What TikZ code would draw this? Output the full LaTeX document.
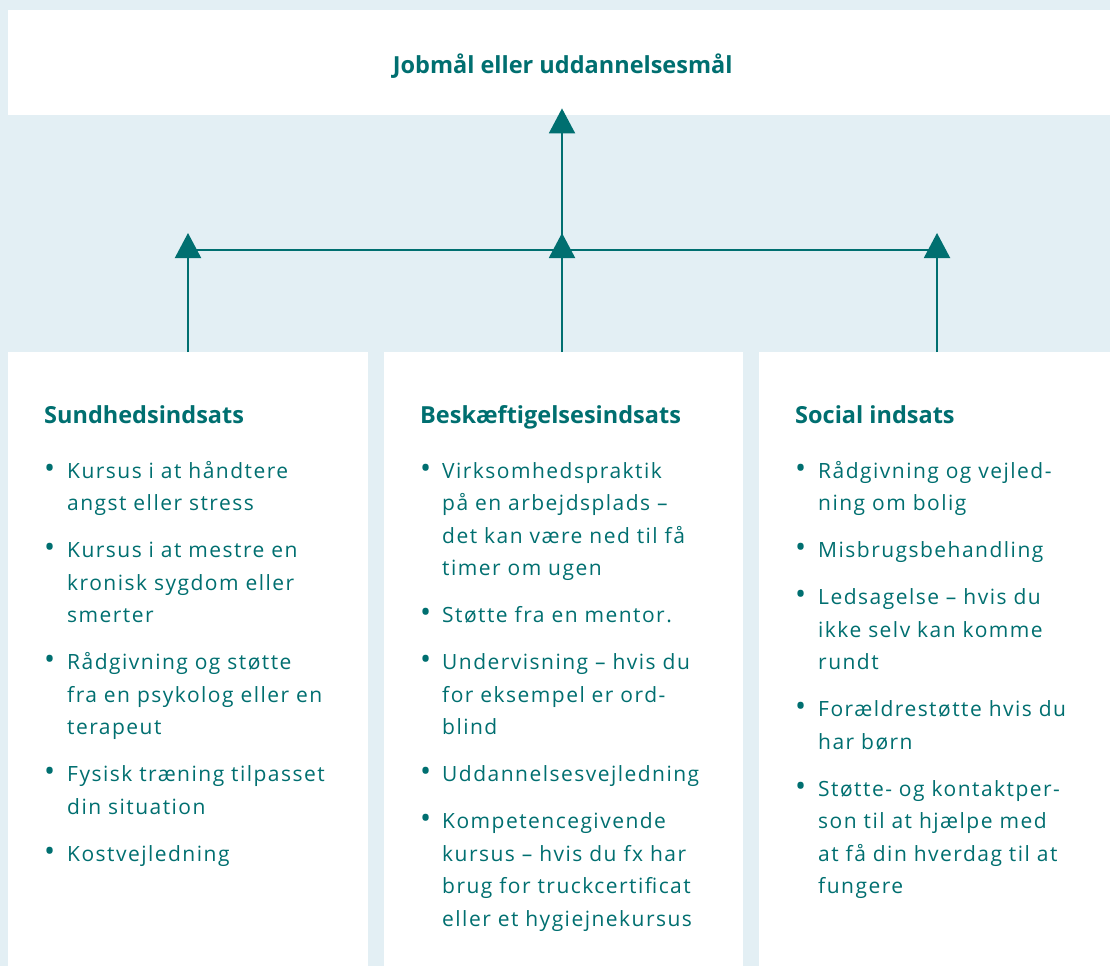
\documentclass[tikz,border=0pt]{standalone}
\usepackage{fontspec}
\setmainfont{Open Sans}[LetterSpace=7, BoldFeatures={LetterSpace=0}]
\usetikzlibrary{arrows.meta}
\definecolor{petrol}{RGB}{0,111,112}
\definecolor{lyseblaa}{RGB}{227,239,244}
\newcommand{\pkt}{\scalebox{1.4}{\textbullet}}
\newcommand{\overskrift}[1]{\multicolumn{2}{@{}l@{}}{\fontsize{23.5}{32.5}\selectfont\bfseries #1}}
\tikzset{
  kasse/.style={fill=white, draw=none, anchor=north west, inner sep=0pt},
  pil/.style={-{Triangle[width=26pt,length=25pt]}, draw=petrol, line width=2pt},
  liste/.style={anchor=base west, inner sep=0pt, text=petrol, font=\fontsize{21}{32.5}\selectfont},
}

\begin{document}
\begin{tikzpicture}[x=1pt, y=-1pt]
          \fill[lyseblaa] (0,0) rectangle (1110,966);
          \useasboundingbox (0,0) rectangle (1110,966);

          \node[kasse, minimum width=1102pt, minimum height=105pt, text=petrol, font=\fontsize{23.5}{28}\selectfont\bfseries] (maal) at (8,10) {\raisebox{-10.5pt}[0pt][0pt]{\hspace*{7pt}Jobmål eller uddannelsesmål}};
          \node[kasse, minimum width=360pt, minimum height=620pt] (sundhed) at (8,352) {};
          \node[kasse, minimum width=359pt, minimum height=620pt] (beskaeft) at (384,352) {};
          \node[kasse, minimum width=355pt, minimum height=620pt] (social) at (759,352) {};

          \node[liste] (sundhedtekst) at (44,423) {\begin{tabular}[t]{@{}p{23pt}@{}l@{}}
            \overskrift{Sundhedsindsats}\\[22.5pt]
            \pkt & Kursus i at håndtere\\ & angst eller stress\\[14.5pt]
            \pkt & Kursus i at mestre en\\ & kronisk sygdom eller\\ & smerter\\[14.5pt]
            \pkt & Rådgivning og støtte\\ & fra en psykolog eller en\\ & terapeut\\[14.5pt]
            \pkt & Fysisk træning tilpasset\\ & din situation\\[14.5pt]
            \pkt & Kostvejledning
          \end{tabular}};
          \node[liste] (beskaefttekst) at (420,423) {\begin{tabular}[t]{@{}p{22pt}@{}l@{}}
            \overskrift{Beskæftigelsesindsats}\\[22.5pt]
            \pkt & Virksomhedspraktik\\ & på en arbejdsplads –\\ & det kan være ned til få\\ & timer om ugen\\[14.5pt]
            \pkt & Støtte fra en mentor.\\[14.5pt]
            \pkt & Undervisning – hvis du\\ & for eksempel er ord-\\ & blind\\[14.5pt]
            \pkt & Uddannelsesvejledning\\[14.5pt]
            \pkt & Kompetencegivende\\ & kursus – hvis du fx har\\ & brug for truckcertificat\\ & eller et hygiejnekursus
          \end{tabular}};
          \node[liste] (socialtekst) at (795,423) {\begin{tabular}[t]{@{}p{23pt}@{}l@{}}
            \overskrift{Social indsats}\\[22.5pt]
            \pkt & Rådgivning og vejled-\\ & ning om bolig\\[14.5pt]
            \pkt & Misbrugsbehandling\\[14.5pt]
            \pkt & Ledsagelse – hvis du\\ & ikke selv kan komme\\ & rundt\\[14.5pt]
            \pkt & Forældrestøtte hvis du\\ & har børn\\[14.5pt]
            \pkt & Støtte- og kontaktper-\\ & son til at hjælpe med\\ & at få din hverdag til at\\ & fungere
          \end{tabular}};

          \coordinate (venstre) at (188,250);
          \coordinate (midt) at (562,250);
          \coordinate (hoejre) at (937,250);

          \draw[draw=petrol, line width=2pt] (venstre) to (hoejre);
          \draw[pil] (sundhed.north west -| venstre) to ([yshift=17pt]venstre);
          \draw[pil] (beskaeft.north west -| midt) to ([yshift=17pt]midt);
          \draw[pil] (social.north west -| hoejre) to ([yshift=17pt]hoejre);
          \draw[pil, shorten >=-7pt] (midt) to (maal.south -| midt);
        \end{tikzpicture}
\end{document}
